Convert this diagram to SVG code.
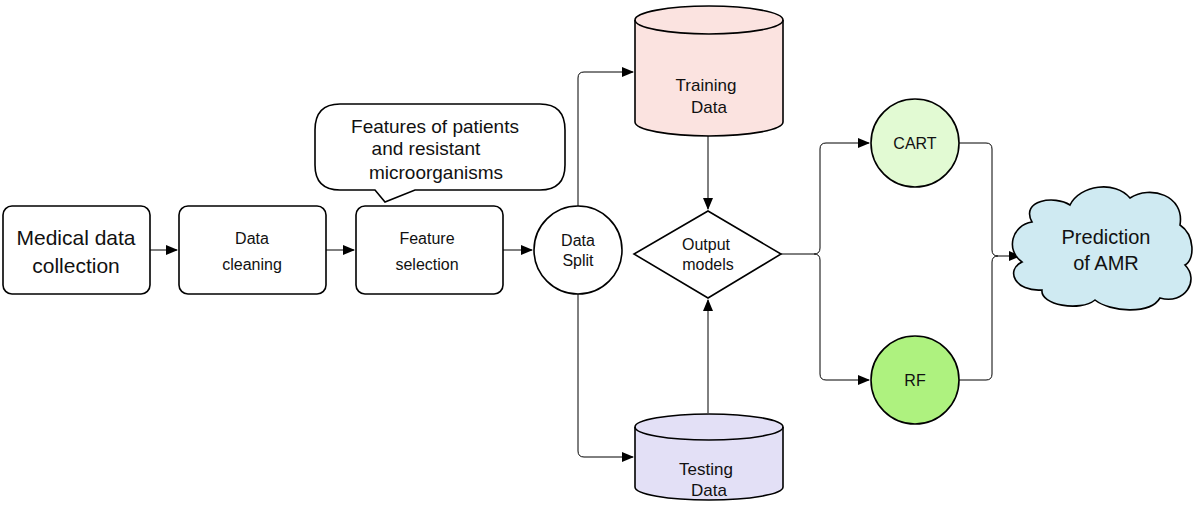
<svg xmlns="http://www.w3.org/2000/svg" width="1200" height="508" viewBox="0 0 1200 508">
<defs>
<marker id="ar" markerWidth="12" markerHeight="10" refX="11" refY="5" orient="auto" markerUnits="userSpaceOnUse"><path d="M0,0 L12,5 L0,10 Z" fill="#000"/></marker>
<style>
.s{stroke:#000;stroke-width:1.6}
.c{fill:none;stroke:#000;stroke-width:1}
text{font-family:"Liberation Sans",Arial,sans-serif;fill:#111;text-anchor:middle}
</style>
</defs>
<rect width="1200" height="508" fill="#fff"/>
<g id="connectors" class="c">
<path d="M150,250 H177" marker-end="url(#ar)"/>
<path d="M326,250 H354" marker-end="url(#ar)"/>
<path d="M503,250 H532" marker-end="url(#ar)"/>
<path d="M578,206 V78 Q578,72 584,72 H633" marker-end="url(#ar)"/>
<path d="M578,294 V451 Q578,457 584,457 H633" marker-end="url(#ar)"/>
<path d="M708,136 V209" marker-end="url(#ar)"/>
<path d="M708,413 V300" marker-end="url(#ar)"/>
<path d="M781,254 H814 Q820,254 820,248 V149 Q820,143 826,143 H869" marker-end="url(#ar)"/>
<path d="M814,254 Q820,254 820,260 V374 Q820,380 826,380 H869" marker-end="url(#ar)"/>
<path d="M959,143 H986 Q992,143 992,149 V250 Q992,256 998,256 H1020" marker-end="url(#ar)"/>
<path d="M959,380 H986 Q992,380 992,374 V262 Q992,256 998,256"/>
</g>
<g id="medical"><rect x="3" y="206" width="147" height="88" rx="9" fill="#fff" class="s"/><text x="76" y="245" font-size="21">Medical data</text><text x="76" y="273" font-size="21">collection</text></g>
<g id="cleaning"><rect x="179" y="206" width="147" height="88" rx="9" fill="#fff" class="s"/><text x="252" y="244" font-size="16">Data</text><text x="252" y="270" font-size="16">cleaning</text></g>
<g id="selection"><rect x="356" y="206" width="147" height="88" rx="9" fill="#fff" class="s"/><text x="427" y="244" font-size="16">Feature</text><text x="427" y="270" font-size="16">selection</text></g>
<g id="callout"><path d="M340,104 H540 Q565,104 565,130 V165 Q565,190 540,190 H415 L385,202 L375,190 H340 Q315,190 315,165 V130 Q315,104 340,104 Z" fill="#fff" class="s"/><text x="435" y="133" font-size="19">Features of patients</text><text x="426" y="155" font-size="19">and resistant</text><text x="436" y="179" font-size="19">microorganisms</text></g>
<g id="split"><circle cx="578" cy="250" r="44" fill="#fff" class="s"/><text x="578" y="246" font-size="16">Data</text><text x="578" y="266" font-size="16">Split</text></g>
<g id="training"><path d="M635,20 V122 A74,14 0 0 0 783,122 V20 A74,14 0 0 0 635,20 Z" fill="#fbe3e0" class="s"/><path d="M635,20 A74,14 0 0 0 783,20" fill="none" class="s"/><text x="706" y="91" font-size="17">Training</text><text x="709" y="113" font-size="17">Data</text></g>
<g id="testing"><path d="M635,427 V487 A74,13 0 0 0 783,487 V427 A74,13 0 0 0 635,427 Z" fill="#e3e0f6" class="s"/><path d="M635,427 A74,13 0 0 0 783,427" fill="none" class="s"/><text x="706" y="475" font-size="17">Testing</text><text x="709" y="496" font-size="17">Data</text></g>
<g id="output"><path d="M708,211 L781,254 L708,298 L634,254 Z" fill="#fff" class="s"/><text x="706" y="250" font-size="16">Output</text><text x="708" y="270" font-size="16">models</text></g>
<g id="cart"><circle cx="915" cy="143" r="44" fill="#e2fad3" class="s"/><text x="915" y="149" font-size="16">CART</text></g>
<g id="rf"><circle cx="915" cy="380" r="44" fill="#aef27f" class="s"/><text x="915" y="386" font-size="16">RF</text></g>
<g id="amr"><path d="M1032,222 C1020,200 1055,195 1070,205 C1080,185 1115,180 1130,198 C1150,185 1185,195 1180,225 C1195,235 1195,260 1185,265 C1200,280 1185,305 1160,298 C1150,315 1110,312 1095,300 C1080,312 1040,305 1042,290 C1015,292 1005,270 1022,262 C1005,250 1012,225 1032,222 Z" fill="#cfeaf2" class="s"/><text x="1106" y="244" font-size="20">Prediction</text><text x="1106" y="270" font-size="20">of AMR</text></g>
</svg>
